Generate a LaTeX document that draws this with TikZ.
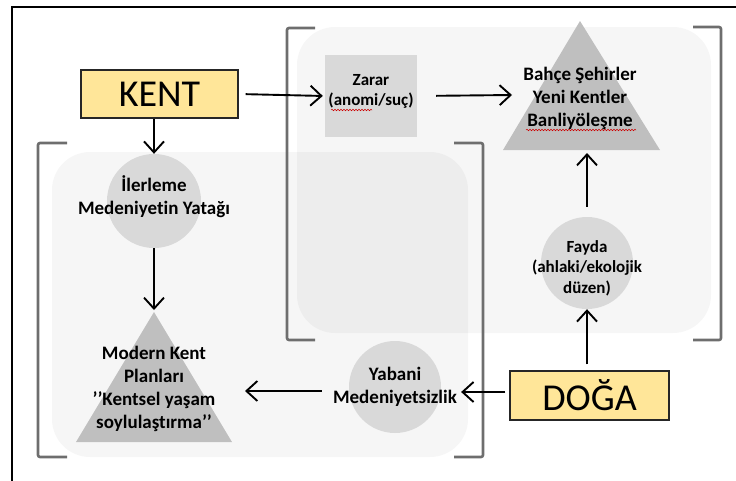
\documentclass[tikz,border=0pt]{standalone}
\usepackage{fontspec}
\setmainfont{Carlito}[Ligatures=NoCommon]
\usetikzlibrary{arrows.meta,decorations.pathmorphing}
\definecolor{keyyellow}{HTML}{FFE699}
\definecolor{boxgray}{HTML}{D9D9D9}
\definecolor{trigray}{HTML}{BFBFBF}
\definecolor{bracketgray}{HTML}{6E6E6E}
\begin{document}
\begin{tikzpicture}[x=1pt,y=-1pt,
  keybox/.style={draw=black!85, line width=1.3pt, fill=keyyellow, inner sep=0,
    minimum width=157pt, minimum height=48pt, font=\fontsize{38}{40}\selectfont},
  disc/.style={circle, fill=boxgray, inner sep=0, minimum size=#1},
  lbl/.style={font=\bfseries\fontsize{19}{23}\selectfont, align=center, inner sep=0},
  smalllbl/.style={font=\bfseries\fontsize{17}{20.5}\selectfont, align=center, inner sep=0},
  panel/.style={fill=black, fill opacity=0.035, rounded corners=38pt},
  bracket/.style={draw=bracketgray, line width=2.6pt, rounded corners=2pt},
  arr/.style={-{Straight Barb[length=11pt,width=20pt,line width=1.9pt]}, line width=1.9pt},
  squiggle/.style={draw=red!80!black, line width=0.5pt,
    decorate, decoration={snake, segment length=3pt, amplitude=0.8pt}}
]
\useasboundingbox (0,0) rectangle (736,480);

% outer frame
\draw[line width=2.4pt] (12,500) -- (12,7) -- (760,7);

% translucent group panels
\fill[panel] (297,27) rectangle (711,333);
\fill[panel] (52,152) rectangle (468,457);

% group brackets
\draw[bracket] (67,143) -- (38,143) -- (38,457) -- (67,457);
\draw[bracket] (454,143) -- (483,143) -- (483,457) -- (454,457);
\draw[bracket] (315,28) -- (287,28) -- (287,340) -- (315,340);
\draw[bracket] (693,27) -- (721,27) -- (721,340) -- (693,340);

% triangles
\coordinate (btop) at (580,21);
\coordinate (bbl) at (503,150);
\coordinate (bbr) at (660,150);
\fill[trigray] (bbl) -- (btop) -- (bbr) -- cycle;
\coordinate (mtop) at (154,312);
\coordinate (mbl) at (76,442);
\coordinate (mbr) at (232,442);
\fill[trigray] (mbl) -- (mtop) -- (mbr) -- cycle;

% main nodes
\node[keybox] (kent) at (159.5,94) {KENT};
\node[keybox, minimum width=159pt, minimum height=49pt] (doga) at (589.5,395.5) {DOĞA};
\node[fill=boxgray, minimum width=92pt, minimum height=82pt, inner sep=0] (zarar) at (371,96) {};
\node[smalllbl] (zarartxt) at (371,91.5) {Zarar\\(anomi/suç)};

\node[disc=94pt] (ilerleme) at (154,201) {};
\node[lbl] (ilerlemetxt) at (154,196.5) {İlerleme\\Medeniyetin Yatağı};

\node[disc=92pt] (fayda) at (587,263) {};
\node[smalllbl] (faydatxt) at (587,268) {Fayda\\(ahlaki/ekolojik\\düzen)};

\node[disc=92pt] (yabani) at (395,387) {};
\node[lbl] (yabanitxt) at (395,387) {Yabani\\Medeniyetsizlik};

\node[lbl] (bahcetxt) at (580,98.5) {Bahçe Şehirler\\Yeni Kentler\\Banliyöleşme};
\node[lbl] (moderntxt) at (154,388.5) {Modern Kent\\Planları\\’’Kentsel yaşam\\soylulaştırma’’};

% spelling marks under two words
\draw[squiggle] (331,110) -- (372,110);
\draw[squiggle] (526,130) -- (636,130);

% connectors
\coordinate (bahceW) at (512,95);
\coordinate (modernE) at (245,391);
\coordinate (dogaW) at ([yshift=3.5pt]doga.west);

\draw[arr, shorten <=7pt, shorten >=2pt] (kent.east) -- (zarar.west);
\draw[arr] (ilerleme.north |- kent.south) -- (ilerleme.north);
\draw[arr, shorten >=2pt] (ilerleme.south) -- (mtop);
\draw[arr, shorten <=19pt] (zarar.east) -- (bahceW);
\draw[arr, shorten <=10pt, shorten >=3pt] (fayda.north) -- (fayda.north |- bbl);
\draw[arr, shorten <=6pt] (fayda.south |- doga.north) -- (fayda.south);
\draw[arr, shorten <=4pt, shorten >=4pt] (dogaW) -- (dogaW -| yabanitxt.east);
\draw[arr, shorten <=11pt] (yabanitxt.west |- modernE) -- (modernE);
\end{tikzpicture}
\end{document}
